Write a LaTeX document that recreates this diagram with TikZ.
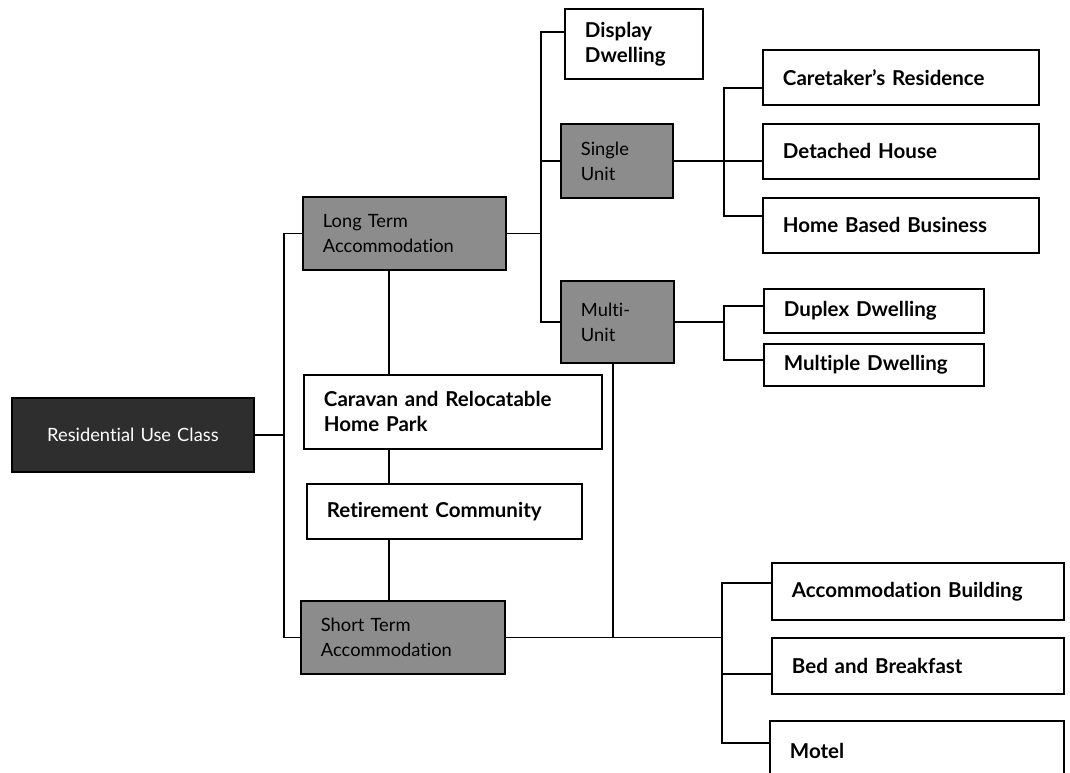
\documentclass[tikz,border=0pt]{standalone}
\usepackage{fontspec}
\setmainfont{Lato}[Ligatures=NoCommon]
\usepackage{tikz}
\usetikzlibrary{positioning}

\begin{document}
\begin{tikzpicture}[x=1pt,y=-1pt,
  box/.style={draw, line width=1.9pt, anchor=north west, inner xsep=20pt, inner ysep=0pt,
    align=left, font=\bfseries\fontsize{20.5}{25}\selectfont},
  group/.style={box, fill=black!45, font=\fontsize{18.3}{25}\selectfont},
  root/.style={box, fill=black!82, text=white, align=center, font=\fontsize{18.3}{25}\selectfont},
  link/.style={line width=1.9pt}]
\useasboundingbox (0,0) rectangle (1070,773);
\fill[white] (0,0) rectangle (1070,773);

\node[root, minimum width=242pt, minimum height=74pt, text width=202pt] (root) at (11,397) {Residential Use Class};

\node[group, minimum width=203pt, minimum height=73pt, text width=163pt] (longterm) at (302,196) {Long Term\\Accommodation};
\node[box, minimum width=298pt, minimum height=74pt, text width=258pt] (caravan) at (303,374) {Caravan and Relocatable\\Home Park};
\node[box, minimum width=275pt, minimum height=55pt, text width=235pt] (retirement) at (306,483) {Retirement Community};
\node[group, minimum width=204pt, minimum height=73pt, text width=164pt] (shortterm) at (300,600) {Short Term\\Accommodation};

\node[box, minimum width=138pt, minimum height=70pt, text width=98pt] (display) at (564,8) {Display\\Dwelling};
\node[group, minimum width=112pt, minimum height=74pt, text width=72pt] (single) at (560,123) {Single\\Unit};
\node[group, minimum width=113pt, minimum height=82pt, text width=73pt] (multi) at (560,280) {Multi-\\Unit};

\node[box, minimum width=276pt, minimum height=55pt, text width=236pt] (caretaker) at (762,49) {Caretaker’s Residence};
\node[box, minimum width=276pt, minimum height=55pt, text width=236pt] (detached) at (762,123) {Detached House};
\node[box, minimum width=276pt, minimum height=55pt, text width=236pt] (homebased) at (762,197) {Home Based Business};

\node[box, minimum width=220pt, minimum height=44pt, text width=180pt] (duplex) at (763,288) {Duplex Dwelling};
\node[box, minimum width=220pt, minimum height=42pt, text width=180pt] (multiple) at (763,343) {Multiple Dwelling};

\node[box, minimum width=292pt, minimum height=57pt, text width=252pt] (accbuilding) at (771,562) {Accommodation Building};
\node[box, minimum width=292pt, minimum height=56pt, text width=252pt] (bnb) at (771,637) {Bed and Breakfast};
\node[box, minimum width=294pt, minimum height=60pt, text width=254pt] (motel) at (769,720) {Motel};

\coordinate (trunk) at (284,0);
\coordinate (spine) at (389,0);
\coordinate (lbus) at (541,0);
\coordinate (drop) at (613,0);
\coordinate (abus) at (722,0);
\coordinate (sbus) at (724,0);

\draw[link] (root.east) -- (root.east -| trunk);
\draw[link] (longterm.west) -| (shortterm.west -| trunk) -- (shortterm.west);

\draw[link] (longterm.south -| spine) -- (caravan.north -| spine);
\draw[link] (caravan.south -| spine) -- (retirement.north -| spine);
\draw[link] (retirement.south -| spine) -- (shortterm.north -| spine);

\draw[link] (longterm.east) -- (longterm.east -| lbus);
\draw[link] ([yshift=12pt]display.west) -| (multi.west -| lbus) -- (multi.west);
\draw[link] (single.west) -- (single.west -| lbus);

\draw[link] (single.east) -- (single.east -| sbus);
\draw[link] ([yshift=-10.5pt]caretaker.west) -| ([yshift=9.5pt]homebased.west -| sbus) -- ([yshift=9.5pt]homebased.west);
\draw[link] ([yshift=-9.5pt]detached.west) -- ([yshift=-9.5pt]detached.west -| sbus);

\draw[link] (multi.east) -- (multi.east -| sbus);
\draw[link] ([yshift=5pt]duplex.west) -| ([yshift=5pt]multiple.west -| sbus) -- ([yshift=5pt]multiple.west);

\draw[link] (multi.south -| drop) -- (shortterm.east -| drop);
\draw[link] (shortterm.east) -- (shortterm.east -| abus);
\draw[link] ([yshift=8.5pt]accbuilding.west) -| ([yshift=8pt]motel.west -| abus) -- ([yshift=8pt]motel.west);
\draw[link] ([yshift=-8pt]bnb.west) -- ([yshift=-8pt]bnb.west -| abus);
\end{tikzpicture}
\end{document}
